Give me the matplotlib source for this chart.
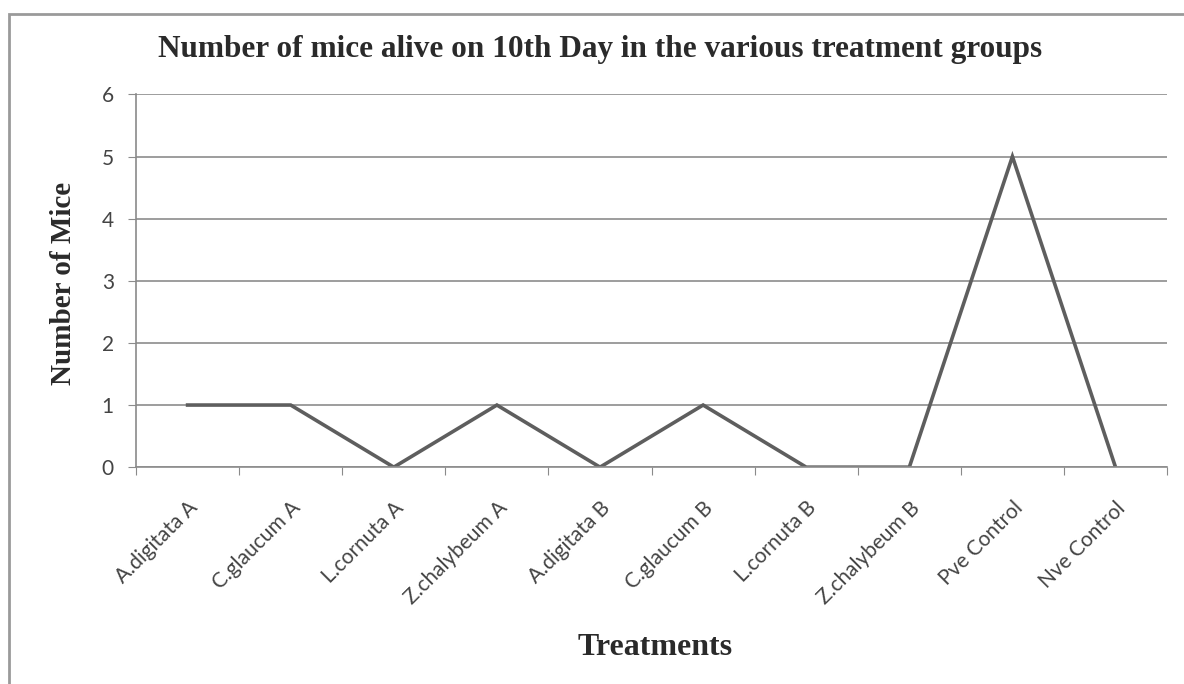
import matplotlib
matplotlib.use("Agg")
import matplotlib.pyplot as plt
from matplotlib.patches import Rectangle

# data
treatments = ["A.digitata A", "C.glaucum A", "L.cornuta A", "Z.chalybeum A",
              "A.digitata B", "C.glaucum B", "L.cornuta B", "Z.chalybeum B",
              "Pve Control", "Nve Control"]
mice_alive = [1, 1, 0, 1, 0, 1, 0, 0, 5, 0]
y_ticks = [0, 1, 2, 3, 4, 5, 6]

fig = plt.figure(figsize=(11.84, 6.84), dpi=100)
ax = fig.add_axes([0.1149, 0.317, 0.8708, 0.545])

x = list(range(len(treatments)))
ax.plot(x, mice_alive, color="#5e5e5e", linewidth=2.6, solid_joinstyle="miter")

ax.set_xlim(-0.5, len(treatments) - 0.5)
ax.set_ylim(0, 6)
ax.set_yticks(y_ticks)
ax.set_yticklabels([str(v) for v in y_ticks], fontsize=15, family="Lato", color="#444444")
ax.yaxis.grid(True, color="#8c8c8c", linewidth=1.2)
ax.set_axisbelow(True)

# category ticks sit between categories, labels at centres
ax.set_xticks([i - 0.5 for i in range(len(treatments) + 1)], minor=False)
ax.set_xticklabels([])
ax.set_xticks(x, minor=True)
ax.set_xticklabels(treatments, minor=True, rotation=45, ha="right",
                   rotation_mode="anchor", fontsize=15, family="Lato", color="#444444")
ax.tick_params(axis="x", which="minor", length=0, pad=22)
ax.tick_params(axis="x", which="major", length=6, color="#8a8a8a", direction="out")
ax.tick_params(axis="y", length=6, color="#8c8c8c", direction="out", pad=10)

for side in ["top", "right"]:
    ax.spines[side].set_visible(False)
ax.spines["left"].set_color("#8a8a8a")
ax.spines["left"].set_linewidth(1.2)
ax.spines["bottom"].set_color("#8c8c8c")
ax.spines["bottom"].set_linewidth(1.2)

fig.text(0.507, 0.927, "Number of mice alive on 10th Day in the various treatment groups",
         ha="center", va="center", fontsize=22.5, fontweight="bold",
         family="Liberation Serif", color="#2a2a2a")
fig.text(0.054, 0.585, "Number of Mice", rotation=90, ha="center", va="center",
         fontsize=21, fontweight="bold", family="Liberation Serif", color="#2a2a2a")
fig.text(0.553, 0.054, "Treatments", ha="center", va="center",
         fontsize=23, fontweight="bold", family="Liberation Serif", color="#2a2a2a")

# scanned page frame
fig.patches.append(Rectangle((0.008, -0.05), 1.05, 1.03, transform=fig.transFigure,
                             fill=False, edgecolor="#9a9a9a", linewidth=2))

fig.savefig("out.png", dpi=100)
